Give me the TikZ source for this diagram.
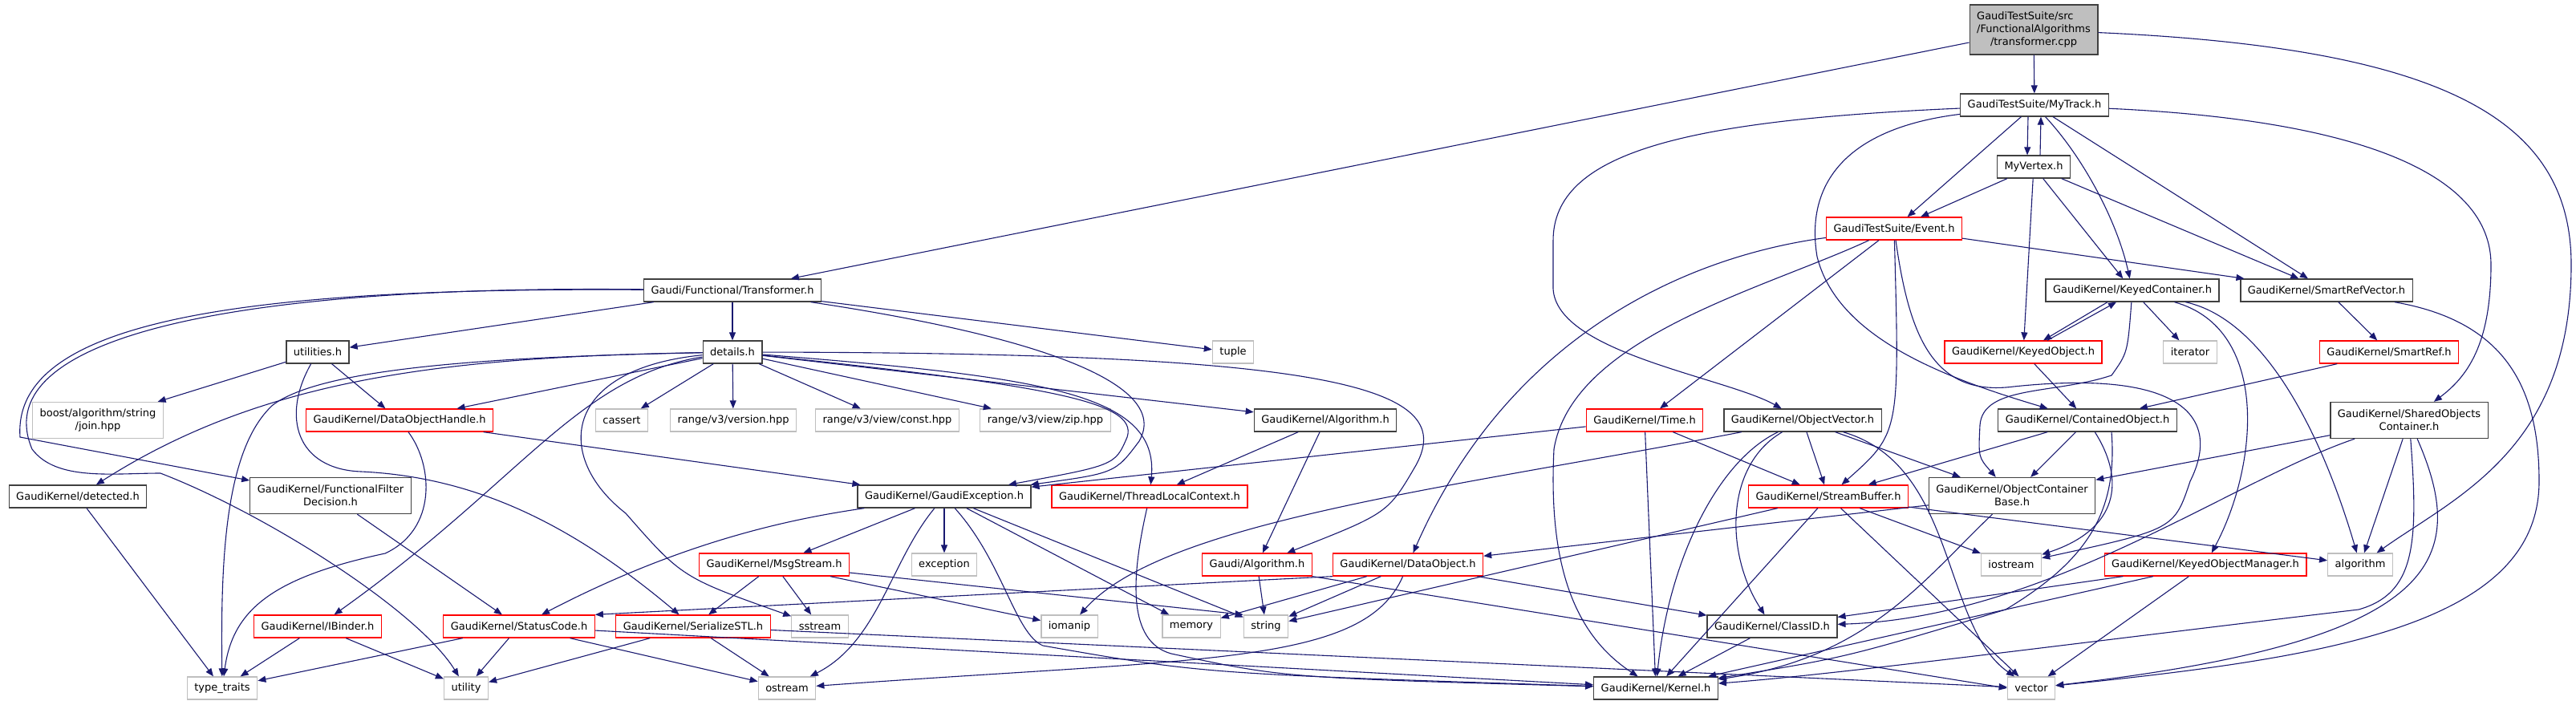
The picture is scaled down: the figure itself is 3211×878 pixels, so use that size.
\documentclass[tikz,border=0pt]{standalone}
\usepackage{fontspec}
\setmainfont{DejaVu Sans}
\usepackage{xcolor}
\usetikzlibrary{arrows.meta}
\definecolor{edgeblue}{RGB}{25,25,112}
\definecolor{boxgrey}{RGB}{191,191,191}
\definecolor{boxdark}{RGB}{64,64,64}

\begin{document}
\begin{tikzpicture}[
  x=1pt,y=-1pt,
  hdr/.style={draw=boxdark,line width=1.3pt,fill=white,minimum height=28pt,inner xsep=9pt,inner ysep=2pt,align=center,font=\fontsize{13}{16}\selectfont},
  trunc/.style={hdr,draw=red},
  sys/.style={hdr,draw=boxgrey},
  rootfile/.style={hdr,fill=boxgrey,minimum height=62pt},
  twoline/.style={minimum height=45pt},
  link/.style={->,color=edgeblue,line width=1.1pt},
  >={Triangle[length=10pt,width=8pt]}
]
\useasboundingbox (0,0) rectangle (3211,878);

% level 0-3
\node[rootfile] (root) at (2535,37) {\begin{tabular}{@{}l@{}}GaudiTestSuite/src\\/FunctionalAlgorithms\\\multicolumn{1}{@{}c@{}}{/transformer.cpp}\end{tabular}};
\node[hdr] (mytrack) at (2536,131) {GaudiTestSuite/MyTrack.h};
\node[hdr] (myvertex) at (2535,208) {MyVertex.h};
\node[trunc] (event) at (2361,285) {GaudiTestSuite/Event.h};

% level 4-5
\node[hdr] (transformer) at (913,362) {Gaudi/Functional/Transformer.h};
\node[hdr] (keyedcont) at (2658,362) {GaudiKernel/KeyedContainer.h};
\node[hdr] (smartrefvec) at (2900,362) {GaudiKernel/SmartRefVector.h};
\node[hdr] (utilities) at (396,439) {utilities.h};
\node[hdr] (details) at (913,439) {details.h};
\node[sys] (tuple) at (1537,439) {tuple};
\node[trunc] (keyedobj) at (2522,439) {GaudiKernel/KeyedObject.h};
\node[sys] (iterator) at (2730,439) {iterator};
\node[trunc] (smartref) at (2978,439) {GaudiKernel/SmartRef.h};

% level 6
\node[sys,twoline] (join) at (122,524) {boost/algorithm/string\\/join.hpp};
\node[trunc] (dohandle) at (498,524) {GaudiKernel/DataObjectHandle.h};
\node[sys] (cassert) at (775,524) {cassert};
\node[sys] (rversion) at (914,524) {range/v3/version.hpp};
\node[sys] (rconst) at (1106,524) {range/v3/view/const.hpp};
\node[sys] (rzip) at (1303,524) {range/v3/view/zip.hpp};
\node[hdr] (kalgorithm) at (1652,524) {GaudiKernel/Algorithm.h};
\node[trunc] (time) at (2050,524) {GaudiKernel/Time.h};
\node[hdr] (objvector) at (2247,524) {GaudiKernel/ObjectVector.h};
\node[hdr] (containedobj) at (2602,524) {GaudiKernel/ContainedObject.h};
\node[hdr,twoline] (sharedobjs) at (3003,524) {GaudiKernel/SharedObjects\\Container.h};

% level 7
\node[hdr] (detected) at (97,619) {GaudiKernel/detected.h};
\node[hdr,twoline] (filterdec) at (412,618) {GaudiKernel/FunctionalFilter\\Decision.h};
\node[hdr] (gexception) at (1177,619) {GaudiKernel/GaudiException.h};
\node[trunc] (tlcontext) at (1433,619) {GaudiKernel/ThreadLocalContext.h};
\node[trunc] (streambuf) at (2279,619) {GaudiKernel/StreamBuffer.h};
\node[hdr,twoline] (objcontbase) at (2508,618) {GaudiKernel/ObjectContainer\\Base.h};

% level 8
\node[trunc] (msgstream) at (965,704) {GaudiKernel/MsgStream.h};
\node[sys] (exception) at (1177,704) {exception};
\node[trunc] (galgorithm) at (1567,704) {Gaudi/Algorithm.h};
\node[trunc] (dataobject) at (1755,704) {GaudiKernel/DataObject.h};
\node[sys] (iostream) at (2507,704) {iostream};
\node[trunc] (keyedobjmgr) at (2749,704) {GaudiKernel/KeyedObjectManager.h};
\node[sys] (algorithm) at (2942,704) {algorithm};

% level 9
\node[trunc] (ibinder) at (396,781) {GaudiKernel/IBinder.h};
\node[trunc] (statuscode) at (647,781) {GaudiKernel/StatusCode.h};
\node[trunc] (serialize) at (864,781) {GaudiKernel/SerializeSTL.h};
\node[sys] (sstream) at (1022,781) {sstream};
\node[sys] (iomanip) at (1333,781) {iomanip};
\node[sys] (memory) at (1485,781) {memory};
\node[sys] (string) at (1578,781) {string};
\node[hdr] (classid) at (2209,781) {GaudiKernel/ClassID.h};

% level 10
\node[sys] (typetraits) at (277,858) {type\_traits};
\node[sys] (utility) at (581,858) {utility};
\node[sys] (ostream) at (981,858) {ostream};
\node[hdr] (kernel) at (2064,858) {GaudiKernel/Kernel.h};
\node[sys] (vector) at (2532,858) {vector};

% transformer.cpp
\draw[link] (root) -- (mytrack);
\draw[link] (root) -- (transformer);
\draw[link] (root) .. controls (3050,60) and (3205,150) .. (3205,330) .. controls (3205,560) and (3060,620) .. (algorithm);

% MyTrack.h
\draw[link] ([xshift=-8pt]mytrack.south) -- ([xshift=-8pt]myvertex.north);
\draw[link] ([xshift=8pt]myvertex.north) -- ([xshift=8pt]mytrack.south);
\draw[link] (mytrack) -- (event);
\draw[link] (mytrack) .. controls (2600,200) and (2640,280) .. (keyedcont);
\draw[link] (mytrack) -- (smartrefvec);
\draw[link] (mytrack) .. controls (2100,150) and (1936,190) .. (1936,300) -- (1936,360) .. controls (1940,440) and (2150,470) .. (objvector);
\draw[link] (mytrack) .. controls (2300,160) and (2250,230) .. (2265,320) .. controls (2290,420) and (2420,470) .. (containedobj);
\draw[link] (mytrack) .. controls (2950,150) and (3105,220) .. (3105,330) .. controls (3105,430) and (3075,470) .. (sharedobjs);

% MyVertex.h
\draw[link] (myvertex) -- (event);
\draw[link] (myvertex) -- (keyedobj);
\draw[link] (myvertex) -- (keyedcont);
\draw[link] (myvertex) -- (smartrefvec);

% Event.h
\draw[link] (event) -- (smartrefvec);
\draw[link] (event) -- (time);
\draw[link] (event) .. controls (2100,320) and (1880,420) .. (dataobject);
\draw[link] (event) .. controls (2200,360) and (1960,420) .. (1937,560) .. controls (1930,700) and (1960,790) .. (kernel);
\draw[link] (event) .. controls (2368,540) .. (streambuf);
\draw[link] (event) .. controls (2380,420) and (2410,495) .. (2510,482) .. controls (2720,460) and (2770,520) .. (2730,600) .. controls (2710,660) .. (iostream);

% Transformer.h
\draw[link] (transformer) -- (details);
\draw[link] (transformer) -- (utilities);
\draw[link] (transformer) -- (tuple);
\draw[link] (transformer) .. controls (1300,420) and (1460,480) .. (1420,550) .. controls (1390,590) .. (gexception);
\draw[link] (transformer) .. controls (300,358) and (15,400) .. (25,545) -- (filterdec);
\draw[link] (transformer) .. controls (250,355) and (-15,430) .. (40,560) .. controls (70,600) and (140,590) .. (200,590) .. controls (330,640) and (520,760) .. (utility);

% details.h
\draw[link] (details) -- (dohandle);
\draw[link] (details) -- (cassert);
\draw[link] (details) -- (rversion);
\draw[link] (details) -- (rconst);
\draw[link] (details) -- (rzip);
\draw[link] (details) -- (kalgorithm);
\draw[link] (details) .. controls (1650,440) and (1820,480) .. (1765,580) .. controls (1730,640) .. (galgorithm);
\draw[link] (details) .. controls (1300,480) and (1420,500) .. (1405,545) .. controls (1390,580) .. (gexception);
\draw[link] (details) .. controls (1300,470) and (1445,490) .. (tlcontext);
\draw[link] (details) .. controls (560,445) and (330,470) .. (detected);
\draw[link] (details) .. controls (600,445) and (400,460) .. (340,505) .. controls (280,560) and (275,700) .. (typetraits);
\draw[link] (details) .. controls (720,470) and (650,600) .. (ibinder);
\draw[link] (details) .. controls (700,460) and (690,570) .. (780,640) .. controls (850,720) .. (sstream);

% utilities.h
\draw[link] (utilities) -- (join);
\draw[link] (utilities) -- (dohandle);
\draw[link] (utilities) .. controls (350,520) and (370,585) .. (450,588) .. controls (600,595) and (720,660) .. (serialize);

% DataObjectHandle.h, detected.h, FunctionalFilterDecision.h
\draw[link] (dohandle) -- (gexception);
\draw[link] (dohandle) .. controls (540,580) and (545,660) .. (480,690) .. controls (340,720) and (290,760) .. (typetraits);
\draw[link] (detected) -- (typetraits);
\draw[link] (filterdec) -- (statuscode);

% Algorithm.h, ThreadLocalContext.h
\draw[link] (kalgorithm) -- (galgorithm);
\draw[link] (kalgorithm) -- (tlcontext);
\draw[link] (tlcontext) .. controls (1410,720) and (1405,800) .. (1460,815) .. controls (1600,845) .. (kernel);

% GaudiException.h
\draw[link] (gexception) -- (msgstream);
\draw[link] (gexception) -- (exception);
\draw[link] (gexception) .. controls (1000,645) and (860,670) .. (statuscode);
\draw[link] (gexception) .. controls (1110,700) and (1095,800) .. (ostream);
\draw[link] (gexception) -- (memory);
\draw[link] (gexception) -- (string);
\draw[link] (gexception) .. controls (1250,700) and (1265,790) .. (1300,805) .. controls (1500,840) .. (kernel);

% MsgStream.h
\draw[link] (msgstream) -- (serialize);
\draw[link] (msgstream) -- (sstream);
\draw[link] (msgstream) -- (iomanip);
\draw[link] (msgstream) -- (string.north west);

% Gaudi/Algorithm.h
\draw[link] (galgorithm) -- (string);
\draw[link] (galgorithm.south east) -- (vector.west);

% DataObject.h
\draw[link] (dataobject.south west) -- (statuscode.north east);
\draw[link] (dataobject) -- (classid);
\draw[link] (dataobject) -- (memory);
\draw[link] (dataobject) -- (string);
\draw[link] (dataobject) .. controls (1700,830) and (1500,820) .. (ostream);

% StatusCode.h, SerializeSTL.h, IBinder.h
\draw[link] (statuscode) -- (typetraits);
\draw[link] (statuscode) -- (utility);
\draw[link] (statuscode) -- (ostream);
\draw[link] (statuscode) -- (kernel);
\draw[link] (serialize) -- (utility);
\draw[link] (serialize) -- (ostream);
\draw[link] (serialize) -- (vector);
\draw[link] (ibinder) -- (typetraits);
\draw[link] (ibinder) -- (utility);

% Time.h
\draw[link] (time) -- (gexception);
\draw[link] (time) -- (kernel);
\draw[link] (time) -- (streambuf);

% ObjectVector.h
\draw[link] (objvector) .. controls (1800,610) and (1450,650) .. (iomanip);
\draw[link] (objvector) .. controls (2140,575) and (2080,700) .. (kernel);
\draw[link] (objvector) .. controls (2150,580) and (2150,690) .. (classid);
\draw[link] (objvector) -- (streambuf);
\draw[link] (objvector) -- (objcontbase);
\draw[link] (objvector) .. controls (2440,580) and (2420,780) .. (vector);

% ContainedObject.h
\draw[link] (containedobj) -- (streambuf);
\draw[link] (containedobj) -- (objcontbase);
\draw[link] (containedobj) .. controls (2650,600) and (2640,660) .. (iostream);
\draw[link] ([xshift=30pt]containedobj.south) .. controls (2640,640) and (2600,700) .. (2500,760) .. controls (2300,820) .. (kernel);

% ObjectContainerBase.h
\draw[link] (objcontbase) -- (dataobject);
\draw[link] (objcontbase) .. controls (2400,720) and (2330,820) .. (kernel);

% KeyedContainer.h, KeyedObject.h
\draw[link] ([xshift=-31pt]keyedcont.south) -- ([xshift=25pt]keyedobj.north);
\draw[link] ([xshift=30pt]keyedobj.north) -- ([xshift=-20pt]keyedcont.south);
\draw[link] (keyedcont) -- (iterator);
\draw[link] (keyedcont) .. controls (2652,440) .. (2632,468) .. controls (2560,492) and (2472,480) .. (2468,530) .. controls (2466,570) .. (objcontbase);
\draw[link] (keyedcont) .. controls (2830,410) and (2815,580) .. (keyedobjmgr);
\draw[link] (keyedcont) .. controls (2830,400) and (2900,560) .. (algorithm);
\draw[link] (keyedobj) -- (containedobj);

% SmartRefVector.h, SmartRef.h
\draw[link] (smartrefvec) -- (smartref);
\draw[link] (smartrefvec) .. controls (3120,400) and (3165,480) .. (3165,600) .. controls (3165,780) and (2900,820) .. (vector);
\draw[link] (smartref) -- (containedobj);

% SharedObjectsContainer.h
\draw[link] (sharedobjs) -- (objcontbase);
\draw[link] (sharedobjs) .. controls (2780,600) and (2550,770) .. (classid);
\draw[link] (sharedobjs) -- (algorithm);
\draw[link] (sharedobjs) .. controls (3015,680) and (3010,740) .. (2940,760) .. controls (2600,800) and (2300,840) .. (kernel);
\draw[link] (sharedobjs) .. controls (3080,700) and (3040,800) .. (vector);

% KeyedObjectManager.h
\draw[link] (keyedobjmgr) -- (classid);
\draw[link] (keyedobjmgr) -- (kernel);
\draw[link] (keyedobjmgr) -- (vector);

% StreamBuffer.h
\draw[link] (streambuf) -- (string);
\draw[link] (streambuf) -- (kernel);
\draw[link] (streambuf) -- (iostream);
\draw[link] (streambuf) -- (vector);
\draw[link] (streambuf) .. controls (2440,640) .. (algorithm);

% ClassID.h
\draw[link] (classid) -- (kernel);
\end{tikzpicture}
\end{document}
